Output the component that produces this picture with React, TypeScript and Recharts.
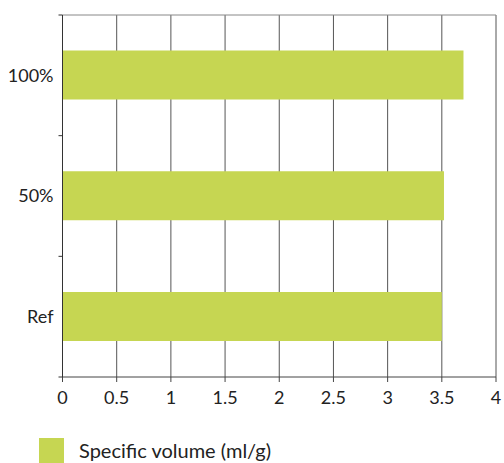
import React from 'react';
import { BarChart, Bar, XAxis, YAxis, CartesianGrid, Legend } from 'recharts';

const categories = ['Ref', '50%', '100%'];
const specificVolume = [3.5, 3.52, 3.7];
const xTicks = [0, 0.5, 1, 1.5, 2, 2.5, 3, 3.5, 4];
const boundaryTicks = [0, 1, 2, 3];

const seriesName = 'Specific volume (ml/g)';
const barColor = '#c6d652';
const font = 'Lato, "Open Sans", sans-serif';

const data = categories.map((c, i) => ({ category: c, value: specificVolume[i], slot: i }));

const LegendContent = () => (
  <div style={{ display: 'flex', alignItems: 'center', height: 25, fontFamily: font }}>
    <div style={{ width: 25, height: 25, background: barColor }} />
    <span style={{ marginLeft: 15, fontSize: 20, color: '#222', lineHeight: '25px' }}>{seriesName}</span>
  </div>
);

export default function App() {
  return (
    <div style={{ position: 'absolute', left: 0, top: 0, width: 504, height: 463, background: '#fff' }}>
      <BarChart
        width={504}
        height={463}
        data={data}
        layout="vertical"
        margin={{ top: 14, right: 8, bottom: 31, left: 0 }}
        barCategoryGap="29.5%"
      >
        <CartesianGrid horizontal={false} stroke="#555" />
        <XAxis
          type="number"
          dataKey="value"
          domain={[0, 4]}
          ticks={xTicks}
          height={30}
          tickSize={5}
          tickMargin={9}
          axisLine={{ stroke: '#444' }}
          tickLine={{ stroke: '#444' }}
          tick={{ fill: '#222', fontSize: 18, fontFamily: font }}
          interval={0}
        />
        <XAxis
          xAxisId="top"
          orientation="top"
          type="number"
          dataKey="value"
          domain={[0, 4]}
          height={1}
          tick={false}
          tickLine={false}
          axisLine={{ stroke: '#888' }}
        />
        {/* inner axis: only the tick marks at the category boundaries */}
        <YAxis
          yAxisId={0}
          type="number"
          dataKey="slot"
          domain={[0, 3]}
          ticks={boundaryTicks}
          width={1}
          tickSize={4}
          tickFormatter={() => ''}
          axisLine={{ stroke: '#333' }}
          tickLine={{ stroke: '#333' }}
          allowDataOverflow
        />
        <YAxis
          yAxisId="cat"
          type="category"
          dataKey="category"
          reversed
          width={61.5}
          tickLine={false}
          axisLine={false}
          tick={{ fill: '#222', fontSize: 18, fontFamily: font }}
          tickMargin={2}
        />
        <Bar yAxisId="cat" dataKey="value" name={seriesName} fill={barColor} isAnimationActive={false} />
        <Legend
          content={<LegendContent />}
          verticalAlign="bottom"
          align="left"
          wrapperStyle={{ left: 39, bottom: 0, width: 'auto' }}
        />
      </BarChart>
    </div>
  );
}
